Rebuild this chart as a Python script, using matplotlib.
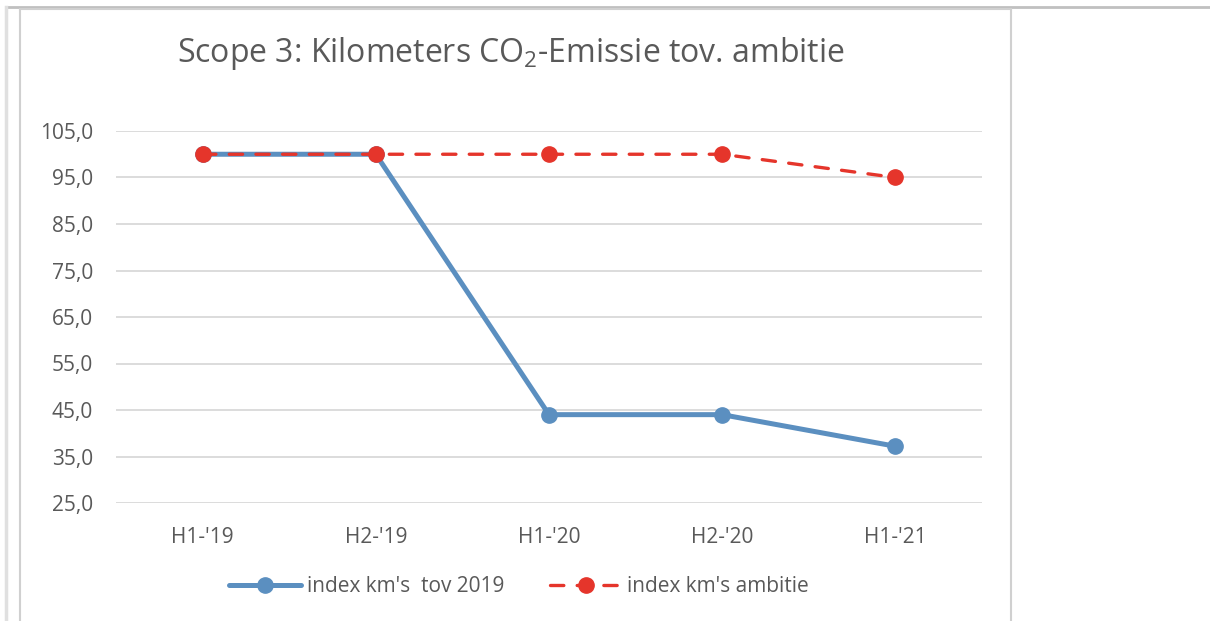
import matplotlib.pyplot as plt
from matplotlib.lines import Line2D

# data
periods = ["H1-'19", "H2-'19", "H1-'20", "H2-'20", "H1-'21"]
km_index = [100.0, 100.0, 44.0, 44.0, 37.2]
km_ambitie = [100.0, 100.0, 100.0, 100.0, 95.0]
y_ticks = [25, 35, 45, 55, 65, 75, 85, 95, 105]

blue = "#5b8fc0"
red = "#e5352b"
grey_txt = "#595959"

plt.rcParams["font.family"] = ["Open Sans", "DejaVu Sans"]
plt.rcParams["mathtext.fontset"] = "custom"
plt.rcParams["mathtext.rm"] = "Open Sans"
plt.rcParams["mathtext.it"] = "Open Sans"
plt.rcParams["mathtext.default"] = "rm"

fig = plt.figure(figsize=(12.10, 6.21), dpi=100)
W, H = 1210, 621

# plot area in pixels: x 116..982, y 131..503
ax = fig.add_axes([116 / W, 1 - 503 / H, (982 - 116) / W, (503 - 131) / H])

x = list(range(len(periods)))
ax.plot(x, km_index, color=blue, lw=3.6, marker="o", ms=11,
        solid_capstyle="round", zorder=3, label="index km's  tov 2019")
ax.plot(x, km_ambitie, color=red, lw=2.4, marker="o", ms=11,
        dashes=(4, 4), dash_capstyle="round", zorder=4,
        label="index km's ambitie")

ax.set_xlim(-0.5, len(periods) - 0.5)
ax.set_ylim(25, 105)
ax.set_yticks(y_ticks)
ax.set_yticklabels([f"{v:.1f}".replace(".", ",") for v in y_ticks])
ax.set_xticks(x)
ax.set_xticklabels(periods)
ax.tick_params(length=0, labelsize=15, colors=grey_txt)
ax.tick_params(axis="y", pad=16.5)
ax.tick_params(axis="x", pad=17)
ax.yaxis.grid(True, color="#d9d9d9", lw=1.3)
ax.set_axisbelow(True)
for s in ax.spines.values():
    s.set_visible(False)

fig.text(511 / W, 1 - 54 / H, "Scope 3: Kilometers CO$_2$-Emissie tov. ambitie",
         ha="center", va="center", fontsize=23, color=grey_txt)

ax.legend(loc="center", bbox_to_anchor=(519 / W, 1 - 587 / H),
          bbox_transform=fig.transFigure, ncol=2, frameon=False,
          fontsize=15, labelcolor=grey_txt, handlelength=3.45,
          columnspacing=2.2, handletextpad=0.25)

# frame lines around the chart
fl = dict(transform=fig.transFigure, color="#d0d0d0", lw=1.5)
fig.add_artist(Line2D([6 / W, 1], [1 - 7 / H, 1 - 7 / H], color="#c0c0c0", lw=2,
                      transform=fig.transFigure))
fig.add_artist(Line2D([6 / W, 6 / W], [0, 1 - 7 / H], color="#e0e0e0", lw=2.5,
                      transform=fig.transFigure))
fig.add_artist(Line2D([20.5 / W, 20.5 / W], [0, 1 - 9 / H], **fl))
fig.add_artist(Line2D([1011 / W, 1011 / W], [0, 1 - 9 / H], **fl))
fig.add_artist(Line2D([20.5 / W, 1011 / W], [1 - 9 / H, 1 - 9 / H], **fl))

fig.savefig("out.png", dpi=100)
